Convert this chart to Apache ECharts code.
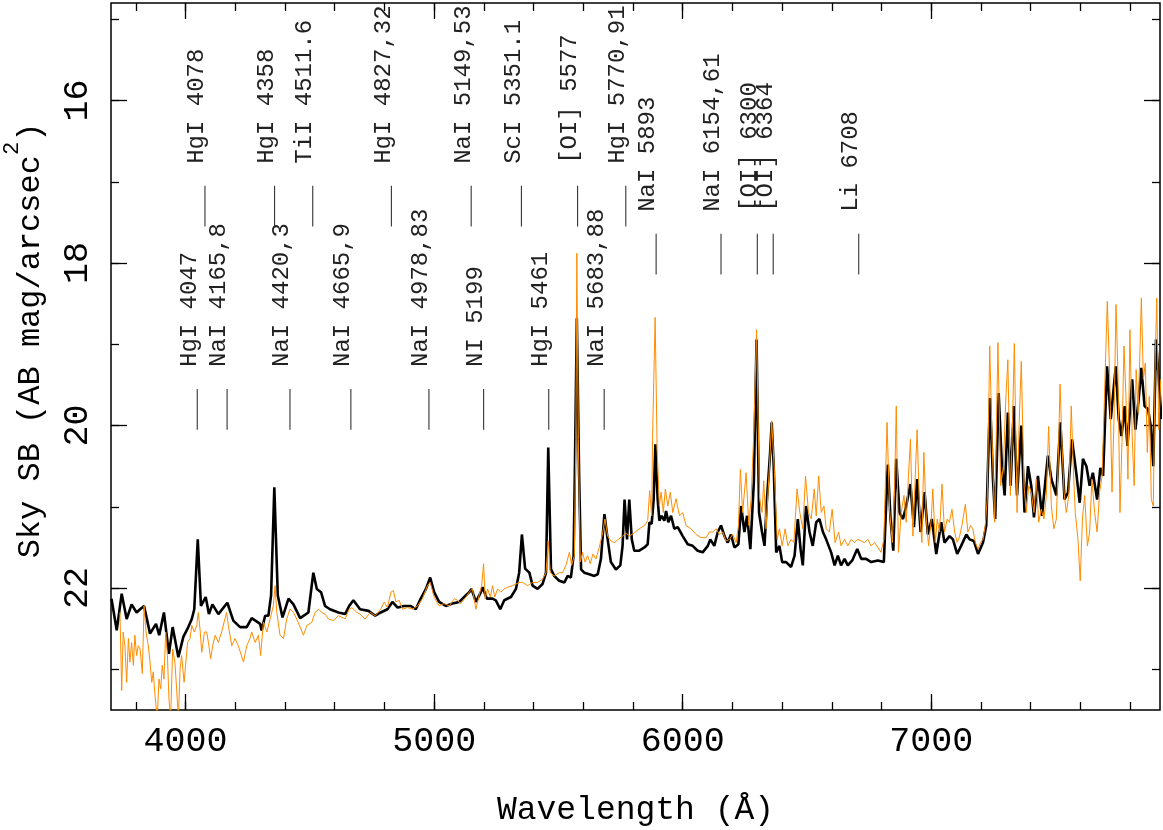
<!DOCTYPE html>
<html><head><meta charset="utf-8">
<script src="https://cdn.jsdelivr.net/npm/echarts@6/dist/echarts.min.js"></script>
<style>html,body{margin:0;padding:0;background:#fff}#c{width:1163px;height:830px}</style>
</head><body><div id="c"></div>
<script>
const FONT = 'Liberation Mono';
const X_MIN = 3700, X_MAX = 7920, Y_MIN = 14.8, Y_MAX = 23.5;
const xMajorTicks = [4000, 5000, 6000, 7000];
const xMinorTicks = [3800,4000,4200,4400,4600,4800,5000,5200,5400,5600,5800,6000,6200,6400,6600,6800,7000,7200,7400,7600,7800];
const yMajorTicks = [16, 18, 20, 22];
const yMinorTicks = [15, 16, 17, 18, 19, 20, 21, 22, 23];

const blackWave = [3702,3723,3743,3763,3783,3803,3817,3833,3857,3881,3894,3913,3933,3948,3971,3991,4011,4025,4035,4049,4062,4081,4094,4108,4132,4168,4192,4219,4246,4266,4300,4306,4320,4333,4344,4357,4371,4390,4414,4434,4461,4494,4514,4528,4545,4561,4581,4615,4642,4658,4675,4702,4736,4763,4785,4812,4832,4853,4879,4906,4926,4946,4967,4984,5000,5020,5047,5074,5101,5121,5141,5150,5168,5188,5195,5212,5235,5248,5266,5282,5309,5329,5342,5353,5366,5383,5396,5416,5436,5450,5459,5470,5483,5503,5524,5537,5550,5561,5566,5574,5583,5591,5604,5624,5644,5658,5671,5685,5698,5711,5731,5749,5758,5766,5776,5785,5795,5805,5825,5846,5859,5866,5875,5883,5890,5899,5906,5915,5926,5933,5942,5953,5966,5980,6000,6020,6040,6060,6080,6101,6111,6127,6141,6154,6168,6181,6194,6208,6224,6235,6248,6259,6272,6286,6297,6307,6319,6329,6339,6352,6358,6366,6376,6389,6400,6416,6436,6450,6463,6474,6483,6496,6510,6523,6537,6550,6564,6577,6597,6611,6624,6637,6651,6664,6682,6702,6718,6738,6758,6785,6809,6825,6836,6847,6859,6872,6886,6899,6916,6930,6943,6957,6973,6986,7002,7020,7040,7053,7073,7087,7104,7120,7141,7154,7171,7188,7208,7221,7236,7248,7257,7271,7284,7295,7308,7319,7332,7345,7362,7375,7389,7402,7413,7429,7445,7469,7483,7503,7519,7536,7550,7566,7583,7597,7610,7624,7637,7650,7667,7680,7691,7707,7722,7742,7754,7765,7778,7789,7808,7821,7834,7845,7858,7872,7883,7893,7904,7915,7926];
const blackMag = [22.13,22.52,22.07,22.38,22.20,22.30,22.26,22.22,22.56,22.44,22.58,22.30,22.81,22.48,22.85,22.60,22.48,22.38,22.26,21.40,22.22,22.11,22.32,22.20,22.32,22.18,22.40,22.48,22.48,22.37,22.44,22.52,22.34,22.34,22.09,20.76,22.09,22.36,22.13,22.20,22.37,22.30,21.81,22.01,22.05,22.22,22.26,22.30,22.32,22.22,22.15,22.26,22.28,22.34,22.30,22.26,22.17,22.24,22.22,22.22,22.26,22.13,22.01,21.87,22.05,22.17,22.22,22.19,22.17,22.11,22.05,22.01,22.17,22.05,21.99,22.13,22.13,22.15,22.26,22.15,22.11,22.01,21.81,21.34,21.76,21.81,21.97,22.01,21.95,21.81,20.27,21.77,21.85,21.91,21.93,21.85,21.87,21.60,20.58,18.68,20.58,21.77,21.81,21.83,21.85,21.83,21.64,21.09,21.40,21.68,21.77,21.72,21.48,20.91,21.40,20.91,21.40,21.54,21.54,21.50,21.46,21.19,21.21,20.91,20.23,20.90,21.17,21.11,21.17,21.05,21.19,21.11,21.27,21.25,21.36,21.46,21.48,21.54,21.56,21.48,21.40,21.48,21.31,21.23,21.36,21.44,21.34,21.50,21.46,20.99,21.31,21.11,21.52,20.70,18.94,21.07,21.31,21.48,20.90,20.31,19.96,20.50,21.56,21.48,21.68,21.68,21.74,21.60,21.15,21.52,21.72,20.99,21.31,21.48,21.19,21.15,21.31,21.40,21.56,21.72,21.60,21.72,21.64,21.72,21.66,21.52,21.64,21.64,21.68,21.66,21.68,20.48,21.15,21.54,20.41,21.07,21.15,20.99,20.72,21.25,20.66,21.31,20.82,21.34,21.15,21.58,21.19,21.44,21.36,21.40,21.58,21.48,21.34,21.40,21.42,21.58,21.44,21.23,19.66,20.66,21.15,19.60,20.50,20.86,19.84,20.74,19.76,20.86,20.00,21.07,20.50,20.74,21.13,20.62,21.11,20.37,20.66,20.86,19.96,20.91,20.82,20.17,20.58,20.95,20.41,20.50,20.74,20.58,20.91,20.52,20.62,19.27,19.92,19.27,19.92,20.13,19.76,20.25,19.43,20.05,19.68,19.29,19.76,19.80,20.01,20.50,18.94,19.43,19.92];

const orangeWave = [3736,3743,3749,3756,3763,3770,3776,3783,3790,3796,3803,3810,3817,3826,3833,3841,3850,3857,3864,3870,3877,3886,3893,3900,3906,3913,3920,3927,3933,3940,3948,3957,3964,3971,3978,3984,3994,4000,4008,4018,4025,4035,4045,4051,4058,4065,4076,4085,4092,4101,4109,4119,4132,4145,4165,4172,4186,4199,4212,4233,4246,4259,4266,4280,4293,4302,4313,4327,4340,4353,4360,4367,4380,4394,4407,4420,4434,4447,4461,4474,4488,4508,4521,4535,4548,4561,4575,4595,4615,4642,4658,4669,4689,4702,4722,4743,4763,4785,4799,4812,4826,4836,4846,4859,4873,4893,4913,4933,4953,4973,4984,5000,5020,5040,5061,5081,5094,5107,5128,5141,5154,5168,5181,5191,5199,5205,5215,5226,5235,5244,5255,5268,5282,5295,5315,5329,5342,5356,5376,5396,5416,5436,5450,5459,5467,5483,5503,5517,5530,5544,5553,5564,5570,5574,5580,5588,5597,5607,5617,5628,5639,5651,5664,5678,5687,5698,5711,5725,5741,5758,5772,5785,5805,5825,5846,5859,5867,5875,5879,5889,5897,5906,5913,5922,5930,5940,5950,5960,5973,5987,6000,6013,6033,6054,6074,6094,6107,6121,6134,6148,6161,6174,6188,6201,6215,6224,6232,6241,6255,6266,6275,6286,6297,6309,6319,6326,6335,6349,6358,6369,6380,6389,6400,6412,6423,6436,6447,6460,6471,6483,6494,6506,6517,6529,6537,6547,6557,6568,6577,6590,6601,6613,6627,6637,6651,6664,6678,6691,6704,6718,6731,6745,6758,6772,6785,6798,6809,6822,6832,6843,6852,6859,6868,6879,6890,6899,6908,6916,6926,6935,6943,6953,6962,6970,6980,6989,7000,7006,7016,7024,7033,7043,7053,7064,7073,7083,7094,7104,7114,7123,7137,7147,7158,7167,7177,7188,7198,7208,7217,7225,7235,7244,7255,7268,7279,7290,7299,7308,7318,7326,7334,7345,7353,7362,7373,7382,7392,7402,7413,7422,7432,7442,7453,7463,7472,7483,7493,7503,7510,7518,7526,7534,7543,7553,7563,7571,7579,7590,7599,7608,7617,7628,7637,7646,7657,7667,7677,7687,7697,7708,7718,7727,7735,7743,7751,7759,7767,7775,7783,7791,7799,7808,7816,7824,7832,7840,7845,7853,7861,7869,7877,7885,7893,7901,7907,7915,7923];
const orangeMag = [22.30,23.26,22.54,22.71,23.16,22.62,22.91,22.67,22.95,22.58,22.83,22.71,22.75,23.05,22.22,22.54,22.71,22.91,23.16,23.03,23.32,23.60,23.12,23.24,22.95,23.12,22.54,22.83,23.36,23.60,22.75,22.91,23.24,23.60,22.99,22.83,23.16,22.95,22.67,22.62,22.46,22.54,22.46,22.30,22.50,22.79,22.54,22.54,22.67,22.87,22.71,22.58,22.67,22.54,22.30,22.46,22.71,22.62,22.71,22.91,22.71,22.62,22.54,22.67,22.58,22.83,22.42,22.54,22.38,22.22,21.97,22.30,22.58,22.62,22.38,22.26,22.30,22.38,22.48,22.58,22.46,22.42,22.30,22.26,22.30,22.32,22.38,22.40,22.34,22.38,22.26,22.24,22.30,22.32,22.38,22.30,22.34,22.26,22.17,22.24,22.05,22.03,22.17,22.15,22.26,22.24,22.26,22.22,22.13,21.97,21.93,22.11,22.22,22.19,22.22,22.13,22.15,22.19,22.11,22.05,22.01,22.26,22.09,21.97,21.70,22.13,22.01,22.11,21.97,22.11,22.01,22.05,22.01,21.99,21.97,21.95,21.93,21.93,21.97,21.93,21.93,21.89,21.81,21.42,21.81,21.85,21.81,21.81,21.72,21.56,21.72,21.60,20.17,17.88,20.17,21.68,21.56,21.68,21.60,21.70,21.58,21.64,21.50,21.32,21.15,21.36,21.42,21.44,21.40,21.36,21.32,21.36,21.32,21.27,21.23,21.17,20.80,21.11,20.09,18.67,20.29,20.99,20.82,21.07,20.78,20.99,20.82,21.07,20.90,21.11,21.07,21.23,21.27,21.34,21.38,21.38,21.31,21.31,21.27,21.34,21.31,21.42,21.40,21.34,21.44,21.23,20.54,21.07,20.58,21.23,20.90,20.09,18.82,20.90,21.07,20.68,21.27,20.50,19.94,20.58,21.40,21.27,21.48,21.27,21.48,21.40,21.44,20.78,21.07,21.27,20.62,21.07,21.15,20.78,21.11,20.62,21.07,20.99,21.27,21.31,21.03,21.44,21.31,21.48,21.40,21.48,21.40,21.44,21.40,21.42,21.44,21.40,21.48,21.44,21.50,21.56,21.40,19.96,21.03,21.44,20.82,19.76,21.56,21.07,20.86,21.19,20.62,20.17,21.36,20.66,20.05,21.07,21.44,20.33,21.15,21.48,21.15,20.78,21.44,21.15,21.31,20.72,21.31,21.15,21.19,21.03,21.31,21.44,21.36,21.23,20.97,21.31,21.23,21.27,21.44,21.52,21.44,21.40,21.23,20.91,19.02,20.13,21.19,18.98,20.74,20.50,19.72,19.19,20.86,20.05,18.99,21.07,20.01,19.21,20.74,21.07,20.74,20.82,21.07,20.66,21.19,21.03,21.15,20.86,20.01,20.99,21.27,21.15,20.50,19.49,20.25,20.82,21.07,20.86,19.76,20.50,21.07,21.40,21.91,21.15,20.86,21.48,21.31,20.66,21.07,21.31,20.82,20.62,19.60,18.47,19.43,20.82,19.92,18.51,19.39,21.07,20.21,19.02,19.64,20.66,18.82,20.13,20.74,19.31,19.84,19.02,18.43,19.43,19.23,20.33,19.64,20.91,20.99,19.15,18.43,20.05,19.43];

// line identifications: wavelength, label, tick extent (mag)
const lineWave  = [4047, 4167, 4420, 4665, 4979, 5199, 5461, 5684, 4078, 4358, 4511.6, 4828, 5149, 5351.1, 5577, 5771, 5893, 6154, 6300, 6364, 6708];
const lineLabel = ['HgI 4047','NaI 4165,8','NaI 4420,3','NaI 4665,9','NaI 4978,83','NI 5199','HgI 5461','NaI 5683,88',
                   'HgI 4078','HgI 4358','TiI 4511.6','HgI 4827,32','NaI 5149,53','ScI 5351.1','[OI] 5577','HgI 5770,91',
                   'NaI 5893','NaI 6154,61','[OI] 6300','[OI] 6364','Li 6708'];
const lineTickTop    = [19.55,19.55,19.55,19.55,19.55,19.55,19.55,19.55, 17.05,17.05,17.05,17.05,17.05,17.05,17.05,17.05, 17.64,17.64,17.64,17.64,17.64];
const lineTickBottom = [20.05,20.05,20.05,20.05,20.05,20.05,20.05,20.05, 17.55,17.55,17.55,17.55,17.55,17.55,17.55,17.55, 18.14,18.14,18.14,18.14,18.14];

const zip = (a, b) => a.map((v, i) => [v, b[i]]);

function xAxisDef(pos, len, ticks, withLabels) {
  const ax = {
    type: 'value', position: pos, min: X_MIN, max: X_MAX,
    axisLine: { show: false }, splitLine: { show: false },
    axisTick: { show: true, inside: true, length: len, customValues: ticks, lineStyle: { color: '#000', width: 1.3 } },
    axisLabel: { show: false }
  };
  if (withLabels) {
    ax.axisLabel = { show: true, customValues: xMajorTicks, formatter: v => String(v), margin: 14,
      fontFamily: FONT, fontSize: 35, color: '#000' };
    ax.name = 'Wavelength (Å)';
    ax.nameLocation = 'middle';
    ax.nameGap = 84;
    ax.nameTextStyle = { fontFamily: FONT, fontSize: 33, color: '#000' };
  }
  return ax;
}
function yAxisDef(pos, len, ticks, withLabels) {
  const ax = {
    type: 'value', position: pos, min: Y_MIN, max: Y_MAX, inverse: true,
    axisLine: { show: false }, splitLine: { show: false },
    axisTick: { show: true, inside: true, length: len, customValues: ticks, lineStyle: { color: '#000', width: 1.3 } },
    axisLabel: { show: false }
  };
  if (withLabels) {
    ax.axisLabel = { show: true, customValues: yMajorTicks, formatter: v => String(v), rotate: 90, margin: 16,
      fontFamily: FONT, fontSize: 35, color: '#000' };
    ax.name = '{a|Sky SB (AB mag/arcsec}{b|2}{a|)}';
    ax.nameLocation = 'middle';
    ax.nameGap = 64;
    ax.nameTextStyle = {
      padding: [0, 0, 0, 32],
      rich: {
        a: { fontFamily: FONT, fontSize: 32, color: '#000', verticalAlign: 'bottom', lineHeight: 32 },
        b: { fontFamily: FONT, fontSize: 22, color: '#000', verticalAlign: 'bottom', lineHeight: 22, padding: [0, 0, 24, 0] }
      }
    };
  }
  return ax;
}

const chart = echarts.init(document.getElementById('c'), null, { renderer: 'canvas' });
chart.setOption({
  animation: false,
  backgroundColor: '#fff',
  grid: { left: 111, right: 3, top: 3, bottom: 120, containLabel: false, outerBoundsMode: 'none',
    show: true, borderColor: '#000', borderWidth: 1.5, backgroundColor: 'transparent' },
  xAxis: [
    xAxisDef('bottom', 16, xMajorTicks, true),
    xAxisDef('bottom', 8, xMinorTicks, false),
    xAxisDef('top', 16, xMajorTicks, false),
    xAxisDef('top', 8, xMinorTicks, false)
  ],
  yAxis: [
    yAxisDef('left', 16, yMajorTicks, true),
    yAxisDef('left', 8, yMinorTicks, false),
    yAxisDef('right', 16, yMajorTicks, false),
    yAxisDef('right', 8, yMinorTicks, false)
  ],
  series: [
    { type: 'line', xAxisIndex: 0, yAxisIndex: 0, data: zip(blackWave, blackMag), showSymbol: false, symbol: 'none',
      lineStyle: { color: '#000', width: 2.6 }, clip: true, z: 2 },
    { type: 'line', xAxisIndex: 0, yAxisIndex: 0, data: zip(orangeWave, orangeMag), showSymbol: false, symbol: 'none',
      lineStyle: { color: '#ff8c00', width: 1 }, clip: true, z: 3 },
    { type: 'custom', xAxisIndex: 0, yAxisIndex: 0, clip: true, z: 4,
      data: lineWave.map((w, i) => [w, lineTickTop[i], lineTickBottom[i], i]),
      encode: { x: 0, y: 1 },
      renderItem: function (params, api) {
        const i = api.value(3);
        const p1 = api.coord([api.value(0), api.value(1)]);
        const p2 = api.coord([api.value(0), api.value(2)]);
        return {
          type: 'group',
          children: [
            { type: 'line', shape: { x1: p1[0], y1: p1[1], x2: p2[0], y2: p2[1] }, style: { stroke: '#333', lineWidth: 1.1 } },
            { type: 'text', x: p1[0] - 8, y: p1[1] - 22, rotation: Math.PI / 2,
              style: { text: lineLabel[i], fontFamily: FONT, fontSize: 24, fill: '#222', align: 'left', verticalAlign: 'middle' } }
          ]
        };
      }
    }
  ]
});
</script>
</body></html>
